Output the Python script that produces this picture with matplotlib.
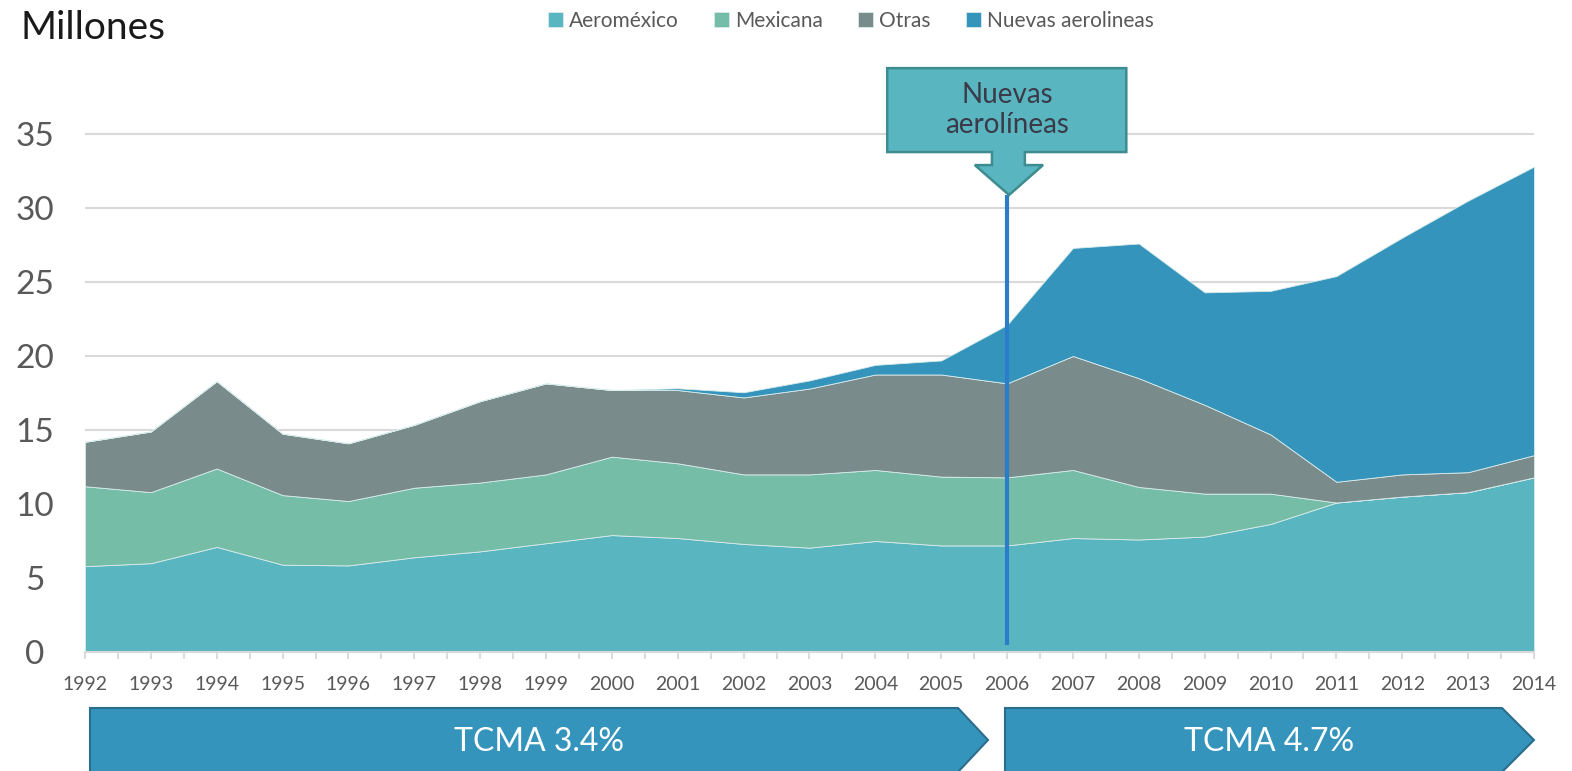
import numpy as np
import matplotlib
matplotlib.use("Agg")
import matplotlib.pyplot as plt
from matplotlib.patches import Polygon

years = list(range(1992, 2015))
aeromexico = [5.8, 6.0, 7.1, 5.9, 5.85, 6.4, 6.8, 7.35, 7.9, 7.7, 7.3, 7.05, 7.5, 7.2,
              7.2, 7.7, 7.6, 7.8, 8.65, 10.1, 10.5, 10.8, 11.8]
mexicana = [5.4, 4.8, 5.3, 4.7, 4.35, 4.7, 4.65, 4.65, 5.3, 5.05, 4.7, 4.95, 4.8, 4.65,
            4.6, 4.6, 3.55, 2.9, 2.05, 0, 0, 0, 0]
otras = [3.0, 4.1, 5.9, 4.15, 3.9, 4.25, 5.5, 6.15, 4.5, 4.95, 5.2, 5.8, 6.45, 6.9,
         6.35, 7.7, 7.35, 6.0, 4.0, 1.4, 1.5, 1.35, 1.5]
nuevas = [0, 0, 0, 0, 0, 0, 0, 0, 0, 0.12, 0.35, 0.55, 0.65, 0.95,
          3.95, 7.3, 9.1, 7.6, 9.7, 13.9, 16.0, 18.35, 19.5]
series_names = ["Aeroméxico", "Mexicana", "Otras", "Nuevas aerolineas"]
colors = ["#59B5C0", "#76BDA7", "#7A8B8C", "#3594BB"]
yticks = [0, 5, 10, 15, 20, 25, 30, 35]
segments = ["TCMA 3.4%", "TCMA 4.7%"]

W, H = 1572, 771
fig = plt.figure(figsize=(W / 100, H / 100), dpi=100)
plt.rcParams['font.family'] = ['Lato', 'DejaVu Sans']

left_px, right_px, bottom_px, top_px = 85, 1534, 652, 60
ax = fig.add_axes([left_px / W, 1 - bottom_px / H, (right_px - left_px) / W,
                   (bottom_px - top_px) / H])
ax.set_xlim(1992, 2014)
ax.set_ylim(0, 40)

for y in yticks[1:]:
    ax.axhline(y, color="#D9D9D9", lw=1.5, zorder=0)

polys = ax.stackplot(years, aeromexico, mexicana, otras, nuevas, colors=colors,
                     labels=series_names, edgecolor="#D8ECEC", linewidth=0.6, zorder=2)

for s in ["top", "right", "left"]:
    ax.spines[s].set_visible(False)
ax.spines["bottom"].set_color("#D9D9D9")
ax.spines["bottom"].set_linewidth(1.5)
ax.spines["bottom"].set_zorder(3)

ax.set_xticks(years)
ax.set_xticklabels([str(y) for y in years], fontsize=14, color="#595959")
ax.set_xticks(np.arange(1992.5, 2014, 1), minor=True)
ax.tick_params(axis="x", which="both", direction="out", length=5, width=1.3,
               color="#D9D9D9", pad=12)
ax.set_yticks(yticks)
ax.set_yticklabels([str(v) for v in yticks], fontsize=24, color="#595959")
ax.tick_params(axis="y", length=0, pad=36)
for lbl in ax.get_yticklabels():
    lbl.set_ha("center")

# vertical marker line
ax.plot([2006.0, 2006.0], [0.45, 30.9], color="#2B7DC9", lw=3, zorder=5,
        solid_capstyle="butt")

# callout
callout = [(2004.18, 39.45), (2007.81, 39.45), (2007.81, 33.78), (2006.27, 33.78),
           (2006.27, 32.9), (2006.545, 32.9), (2006.03, 30.88), (2005.51, 32.9),
           (2005.77, 32.9), (2005.77, 33.78), (2004.18, 33.78)]
ax.add_patch(Polygon(callout, closed=True, facecolor="#59B5C0", edgecolor="#3C8C90",
                     lw=1.8, zorder=6, clip_on=False))
ax.text(2006.0, 36.6, "Nuevas\naerolíneas", ha="center", va="center", fontsize=20,
        color="#3A3A48", zorder=7, linespacing=1.2)

# title
fig.text(20 / W, 1 - 28 / H, "Millones", fontsize=28, color="#1A1A1A", ha="left",
         va="center")

# legend
fig.legend(handles=polys, labels=series_names, loc="center",
           bbox_to_anchor=(851 / W, 1 - 21 / H), ncol=4, frameon=False, fontsize=15,
           handlelength=0.7, handleheight=0.7, handletextpad=0.3, columnspacing=1.7,
           labelcolor="#595959")

# bottom chevrons
def add_arrow(x0, x1, tip, label):
    pts = [(x0, 708), (x1, 708), (tip, 740), (x1, 772), (x0, 772)]
    pts = [(x / W, 1 - y / H) for x, y in pts]
    fig.add_artist(Polygon(pts, closed=True, facecolor="#3594BB", edgecolor="#2A6D8C",
                           lw=1.5, transform=fig.transFigure))
    fig.text(((x0 + tip) / 2) / W, 1 - 742 / H, label, ha="center", va="center",
             fontsize=23, color="white")

add_arrow(90, 958, 988, segments[0])
add_arrow(1005, 1502, 1534, segments[1])

fig.savefig("out.png", dpi=100)
